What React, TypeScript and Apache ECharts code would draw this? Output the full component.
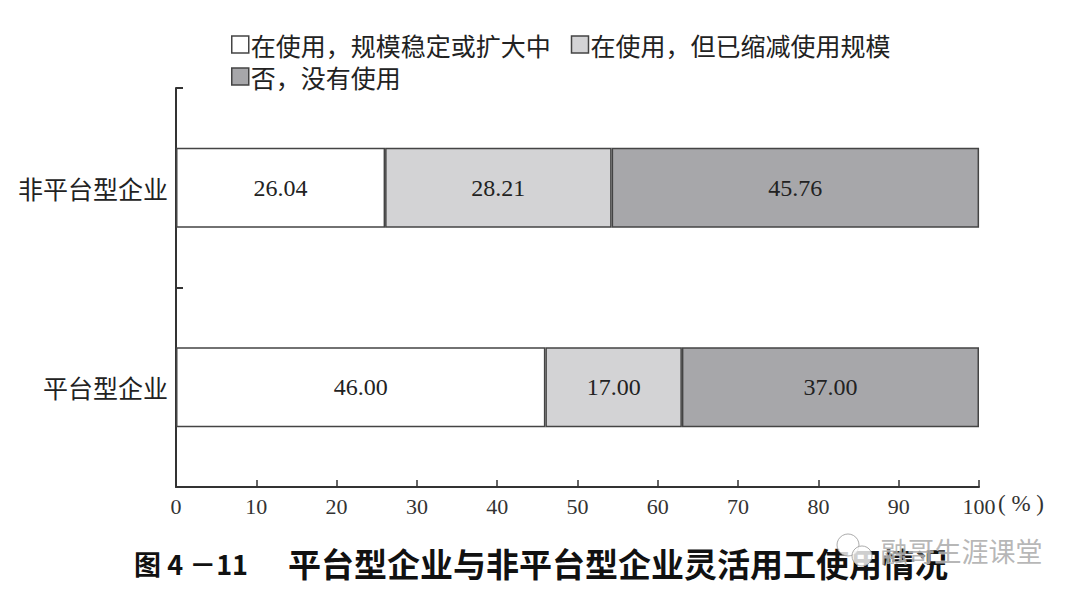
import React, { useEffect, useRef } from "react";
import * as echarts from "echarts";

const categories = ["平台型企业", "非平台型企业"];
const seriesNames = ["在使用，规模稳定或扩大中", "在使用，但已缩减使用规模", "否，没有使用"];
const stableValues = [46.0, 26.04];
const reducedValues = [17.0, 28.21];
const noneValues = [37.0, 45.76];
const xTicks = [0, 10, 20, 30, 40, 50, 60, 70, 80, 90, 100];
const colors = ["#ffffff", "#d3d3d5", "#a7a7aa"];

const CJK = "'Noto Sans CJK SC', sans-serif";
const SERIF = "'Liberation Serif', 'DejaVu Serif', serif";

export default function App() {
  const ref = useRef<HTMLDivElement>(null);
  useEffect(() => {
    if (!ref.current) return;
    const chart = echarts.init(ref.current, undefined, { renderer: "svg" });
    const values = [stableValues, reducedValues, noneValues];
    chart.setOption({
      animation: false,
      backgroundColor: "#ffffff",
      grid: { left: 176, right: 101, top: 88, bottom: 116, containLabel: false },
      legend: [
        {
          data: [seriesNames[0], seriesNames[1]],
          left: 226,
          top: 27,
          itemWidth: 17,
          itemHeight: 17,
          itemGap: 20,
          icon: "rect",
          itemStyle: { borderColor: "#444", borderWidth: 1.5 },
          textStyle: { fontFamily: CJK, fontSize: 25, color: "#222", padding: [0, 0, 0, -3] },
        },
        {
          data: [seriesNames[2]],
          left: 226,
          top: 59,
          itemWidth: 17,
          itemHeight: 17,
          icon: "rect",
          itemStyle: { borderColor: "#444", borderWidth: 1.5 },
          textStyle: { fontFamily: CJK, fontSize: 25, color: "#222", padding: [0, 0, 0, -3] },
        },
      ],
      xAxis: {
        type: "value",
        min: xTicks[0],
        max: xTicks[xTicks.length - 1],
        interval: 10,
        splitLine: { show: false },
        axisLine: { show: true, lineStyle: { color: "#333", width: 2 } },
        axisTick: { show: true, inside: true, length: 7, lineStyle: { color: "#333", width: 1.5 } },
        axisLabel: {
          show: true,
          fontFamily: SERIF,
          fontSize: 22,
          color: "#333",
          margin: 8,
        },
      },
      yAxis: {
        type: "category",
        data: categories,
        axisLine: { show: true, lineStyle: { color: "#333", width: 2 } },
        axisTick: { show: true, inside: true, length: 7, lineStyle: { color: "#333", width: 2 } },
        axisLabel: { fontFamily: CJK, fontSize: 25, color: "#222", margin: 8 },
      },
      series: seriesNames.map((name, i) => ({
        name,
        type: "bar",
        stack: "total",
        barWidth: 80,
        data: values[i],
        itemStyle: { color: colors[i], borderColor: "#444", borderWidth: 1.5 },
        label: {
          show: true,
          position: "inside",
          formatter: (p: any) => Number(p.value).toFixed(2),
          fontFamily: SERIF,
          fontSize: 24,
          color: "#222",
        },
      })),
      graphic: [
        {
          type: "text",
          left: 998,
          top: 492,
          style: { text: "( % )", fontFamily: SERIF, fontSize: 23, fill: "#333" },
        },
        {
          type: "text",
          left: 134,
          top: 550,
          style: { text: "图 4 －11", fontFamily: CJK, fontSize: 27, fontWeight: "bold", fill: "#111" },
        },
        {
          type: "text",
          left: 288,
          top: 546,
          style: {
            text: "平台型企业与非平台型企业灵活用工使用情况",
            fontFamily: CJK,
            fontSize: 33,
            fontWeight: "bold",
            fill: "#111",
          },
        },
        {
          type: "text",
          left: 880,
          top: 536,
          z: 10,
          style: {
            text: "融哥生涯课堂",
            fontFamily: CJK,
            fontSize: 27,
            fill: "rgba(170,170,170,0.85)",
            stroke: "rgba(255,255,255,0.6)",
            lineWidth: 1,
          },
        },
        {
          type: "circle",
          z: 10,
          shape: { cx: 848, cy: 545, r: 11 },
          style: { fill: "rgba(255,255,255,0.8)", stroke: "rgba(150,150,150,0.8)", lineWidth: 1 },
        },
        {
          type: "circle",
          z: 10,
          shape: { cx: 862, cy: 556, r: 10 },
          style: { fill: "rgba(255,255,255,0.8)", stroke: "rgba(150,150,150,0.8)", lineWidth: 1 },
        },
      ],
    });
    return () => chart.dispose();
  }, []);
  return (
    <div
      ref={ref}
      style={{ position: "absolute", left: 0, top: 0, width: 1080, height: 603, background: "#fff" }}
    />
  );
}
